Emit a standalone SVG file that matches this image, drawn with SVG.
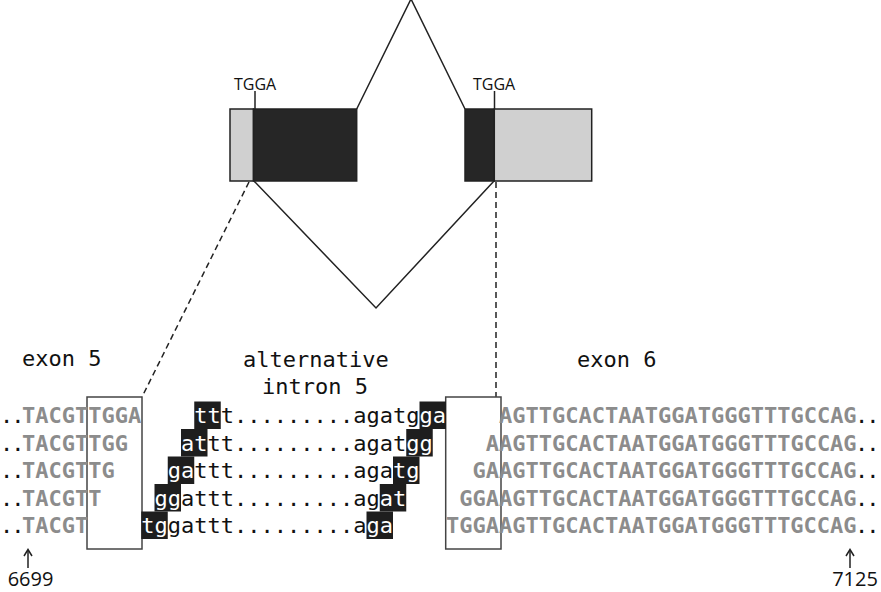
<svg xmlns="http://www.w3.org/2000/svg" width="881" height="592" viewBox="0 0 881 592">
<style>
.seq{font-family:"DejaVu Sans Mono","Liberation Mono",monospace;font-size:22px;fill:#111}
.gr{font-weight:bold;fill:#8c8c8c}
.w{fill:#fff}
.dl{letter-spacing:-2px}
.hl{fill:#1e1e1e}
.lbl{font-family:"DejaVu Sans Mono","Liberation Mono",monospace;font-size:22px;fill:#111}
.sans{font-family:"Open Sans","Liberation Sans",sans-serif;fill:#111}
.ln{fill:none;stroke:#222;stroke-width:1.5}
.dash{fill:none;stroke:#222;stroke-width:1.5;stroke-dasharray:6 4}
.box{fill:none;stroke:#444;stroke-width:1.5}
.dk{fill:#262626;stroke:#222;stroke-width:1.5}
.lt{fill:#d0d0d0;stroke:#222;stroke-width:1.5}
</style>
<rect width="881" height="592" fill="#fff"/>
<g id="gene">
<rect class="lt" x="230" y="109" width="23.5" height="72"/>
<rect class="dk" x="253.5" y="109" width="103.2" height="72"/>
<rect class="dk" x="465" y="109" width="29.3" height="72"/>
<rect class="lt" x="494.3" y="109" width="97.4" height="72"/>
<text class="sans" x="234" y="90" font-size="16">TGGA</text>
<text class="sans" x="473" y="90" font-size="16">TGGA</text>
<line class="ln" x1="255" y1="91" x2="255" y2="109"/>
<line class="ln" x1="494.5" y1="91" x2="494.5" y2="109"/>
</g>
<g id="connectors">
<polyline class="ln" points="356.7,109 411,-1 465,109"/>
<polyline class="ln" points="254,181 376,308 494,181"/>
<line class="dash" x1="249" y1="182" x2="142" y2="397"/>
<line class="dash" x1="496" y1="182" x2="496" y2="397"/>
</g>
<g id="labels">
<text class="lbl" x="22" y="366">exon 5</text>
<text class="lbl" x="243" y="367">alternative</text>
<text class="lbl" x="262" y="394">intron 5</text>
<text class="lbl" x="577" y="367">exon 6</text>
</g>
<g id="boxes">
<rect class="box" x="87" y="397" width="55" height="152"/>
<rect class="box" x="445.7" y="397" width="55.3" height="152"/>
</g>
<g id="highlights">
<rect class="hl" x="194.25" y="401.5" width="26.5" height="27.5"/>
<rect class="hl" x="419.5" y="401.5" width="26.5" height="27.5"/>
<rect class="hl" x="181" y="429" width="26.5" height="27.5"/>
<rect class="hl" x="406.25" y="429" width="26.5" height="27.5"/>
<rect class="hl" x="167.75" y="456.5" width="26.5" height="27.5"/>
<rect class="hl" x="393" y="456.5" width="26.5" height="27.5"/>
<rect class="hl" x="154.5" y="484" width="26.5" height="27.5"/>
<rect class="hl" x="379.75" y="484" width="26.5" height="27.5"/>
<rect class="hl" x="141.25" y="511.5" width="26.5" height="27.5"/>
<rect class="hl" x="366.5" y="511.5" width="26.5" height="27.5"/>
</g>
<g id="row1">
<text class="seq dl" x="0" y="423">..</text>
<text class="seq gr" x="22" y="423">TACGTTGGA</text>
<text class="seq" x="194.25" y="423"><tspan class="w">tt</tspan>t.........agatg<tspan class="w">ga</tspan></text>
<text class="seq gr" x="499" y="423">AGTTGCACTAATGGATGGGTTTGCCAG</text>
<text class="seq dl" x="855" y="423">..</text>
</g>
<g id="row2">
<text class="seq dl" x="0" y="450.5">..</text>
<text class="seq gr" x="22" y="450.5">TACGTTGG</text>
<text class="seq" x="181" y="450.5"><tspan class="w">at</tspan>tt.........agat<tspan class="w">gg</tspan></text>
<text class="seq gr" x="485.75" y="450.5">AAGTTGCACTAATGGATGGGTTTGCCAG</text>
<text class="seq dl" x="855" y="450.5">..</text>
</g>
<g id="row3">
<text class="seq dl" x="0" y="478">..</text>
<text class="seq gr" x="22" y="478">TACGTTG</text>
<text class="seq" x="167.75" y="478"><tspan class="w">ga</tspan>ttt.........aga<tspan class="w">tg</tspan></text>
<text class="seq gr" x="472.5" y="478">GAAGTTGCACTAATGGATGGGTTTGCCAG</text>
<text class="seq dl" x="855" y="478">..</text>
</g>
<g id="row4">
<text class="seq dl" x="0" y="505.5">..</text>
<text class="seq gr" x="22" y="505.5">TACGTT</text>
<text class="seq" x="154.5" y="505.5"><tspan class="w">gg</tspan>attt.........ag<tspan class="w">at</tspan></text>
<text class="seq gr" x="459.25" y="505.5">GGAAGTTGCACTAATGGATGGGTTTGCCAG</text>
<text class="seq dl" x="855" y="505.5">..</text>
</g>
<g id="row5">
<text class="seq dl" x="0" y="533">..</text>
<text class="seq gr" x="22" y="533">TACGT</text>
<text class="seq" x="141.25" y="533"><tspan class="w">tg</tspan>gattt.........a<tspan class="w">ga</tspan></text>
<text class="seq gr" x="446" y="533">TGGAAGTTGCACTAATGGATGGGTTTGCCAG</text>
<text class="seq dl" x="855" y="533">..</text>
</g>
<g id="positions">
<line class="ln" x1="28" y1="568" x2="28" y2="550"/>
<polyline class="ln" points="24,556 28,549.5 32,556"/>
<text class="sans" x="30.5" y="586" font-size="20" text-anchor="middle">6699</text>
<line class="ln" x1="850" y1="568" x2="850" y2="550"/>
<polyline class="ln" points="846,556 850,549.5 854,556"/>
<text class="sans" x="855" y="586" font-size="20" text-anchor="middle">7125</text>
</g>
</svg>
